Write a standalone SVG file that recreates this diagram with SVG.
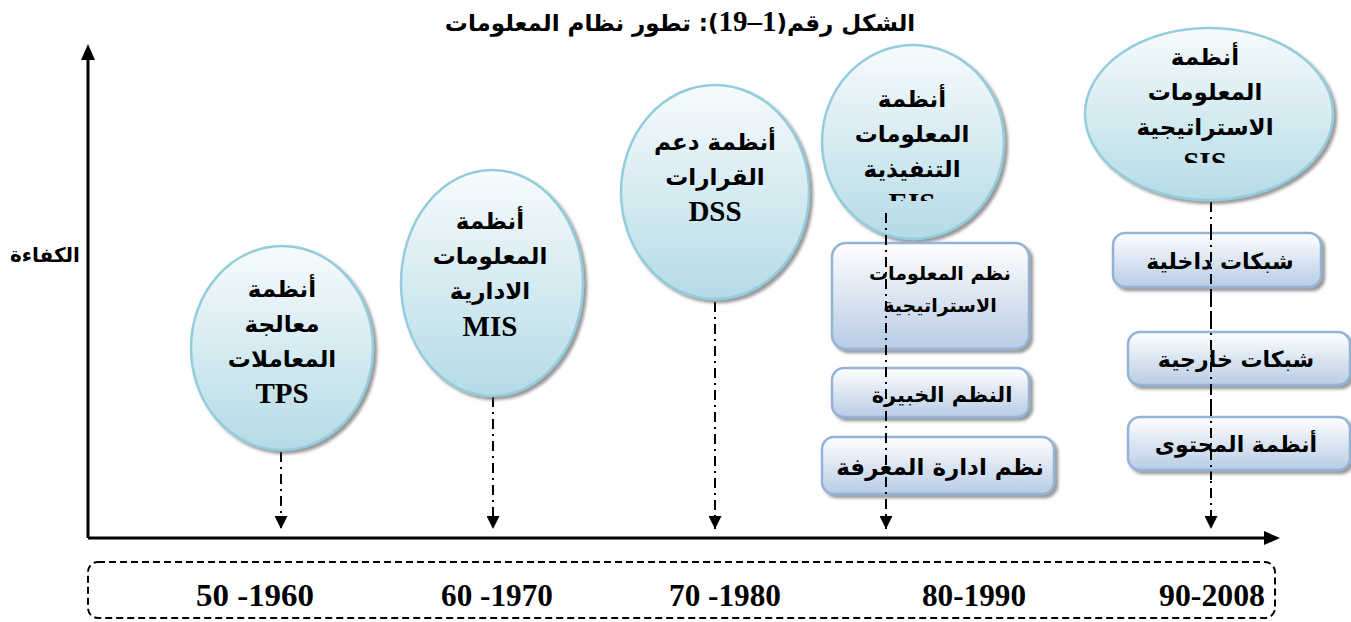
<svg xmlns="http://www.w3.org/2000/svg" width="1351" height="622" viewBox="0 0 1351 622">
  <style>
    .ar { font-family: "DejaVu Sans", "Noto Sans", sans-serif; font-weight: bold; fill: #000; text-anchor: middle; }
    .lat { font-family: "Liberation Serif", "Times New Roman", serif; font-weight: bold; fill: #000; text-anchor: middle; }
    .bubble { fill: url(#bubbleFill); stroke: #93cddd; stroke-width: 2.5; filter: url(#shadow); }
    .box { fill: url(#boxFill); stroke: #95b3d7; stroke-width: 2.5; filter: url(#shadow); }
    .axis { stroke: #000; stroke-width: 3; fill: none; }
    .drop { stroke: #000; stroke-width: 2; stroke-dasharray: 10 5 2 5; fill: none; }
    .year { font-family: "Liberation Serif", serif; font-weight: bold; font-size: 31px; text-anchor: middle; fill: #000; }
  </style>
  <defs>
    <linearGradient id="bubbleFill" x1="0" y1="0" x2="0" y2="1">
      <stop offset="0" stop-color="#f7fbfd"/>
      <stop offset="1" stop-color="#b5dbe6"/>
    </linearGradient>
    <linearGradient id="boxFill" x1="0" y1="0" x2="0" y2="1">
      <stop offset="0" stop-color="#ffffff"/>
      <stop offset="1" stop-color="#b8cce4"/>
    </linearGradient>
    <filter id="shadow" x="-10%" y="-10%" width="125%" height="125%">
      <feDropShadow dx="3" dy="3" stdDeviation="1.5" flood-color="#555" flood-opacity="0.6"/>
    </filter>
    <marker id="head" markerWidth="13" markerHeight="13" refX="13" refY="6.5" orient="auto" markerUnits="userSpaceOnUse" viewBox="0 0 13 13">
      <path d="M0,0 L13,6.5 L0,13 Z" fill="#000"/>
    </marker>
    <clipPath id="clipEIS"><rect x="820" y="40" width="190" height="161"/></clipPath>
    <clipPath id="clipSIS"><rect x="1080" y="20" width="260" height="143"/></clipPath>
  </defs>

  <!-- title -->
  <text x="680" y="31" direction="rtl" style="font-family:'DejaVu Sans',sans-serif;font-weight:bold;font-size:23px;text-anchor:middle">الشكل رقم(<tspan style="font-family:'Liberation Serif',serif;font-size:29px">1–19</tspan>): تطور نظام المعلومات</text>

  <!-- axes -->
  <g id="axes">
    <line class="axis" x1="88" y1="538" x2="88" y2="58"/>
    <path d="M81,60 L88,44 L95,60 Z" fill="#000"/>
    <line class="axis" x1="88" y1="538" x2="1266" y2="538"/>
    <path d="M1264,531 L1280,538 L1264,545 Z" fill="#000"/>
    <text class="ar" x="45" y="262" style="font-size:20px">الكفاءة</text>
  </g>

  <!-- connectors -->
  <g id="connectors">
    <line class="drop" x1="281" y1="452" x2="281" y2="529" marker-end="url(#head)"/>
    <line class="drop" x1="493" y1="397" x2="493" y2="529" marker-end="url(#head)"/>
    <line class="drop" x1="715" y1="302" x2="715" y2="529" marker-end="url(#head)"/>
    <line class="drop" x1="1211" y1="202" x2="1211" y2="529" marker-end="url(#head)"/>
  </g>

  <!-- bubbles -->
  <g id="tps">
    <ellipse class="bubble" cx="282" cy="348" rx="91" ry="102"/>
    <text class="ar" x="282" y="297" style="font-size:23px">أنظمة</text>
    <text class="ar" x="282" y="332" style="font-size:23px">معالجة</text>
    <text class="ar" x="282" y="367" style="font-size:23px">المعاملات</text>
    <text class="lat" x="282" y="403" style="font-size:29px">TPS</text>
  </g>
  <g id="mis">
    <ellipse class="bubble" cx="492" cy="283" rx="91" ry="113"/>
    <text class="ar" x="490" y="229" style="font-size:23px">أنظمة</text>
    <text class="ar" x="490" y="264" style="font-size:23px">المعلومات</text>
    <text class="ar" x="490" y="299" style="font-size:23px">الادارية</text>
    <text class="lat" x="490" y="336" style="font-size:29px">MIS</text>
  </g>
  <g id="dss">
    <ellipse class="bubble" cx="715" cy="192" rx="94" ry="107"/>
    <text class="ar" x="715" y="150" style="font-size:23px">أنظمة دعم</text>
    <text class="ar" x="715" y="185" style="font-size:23px">القرارات</text>
    <text class="lat" x="715" y="221" style="font-size:29px">DSS</text>
  </g>
  <g id="eis">
    <ellipse class="bubble" cx="913" cy="142" rx="91" ry="97"/>
    <text class="ar" x="912" y="107" style="font-size:23px">أنظمة</text>
    <text class="ar" x="912" y="142" style="font-size:23px">المعلومات</text>
    <text class="ar" x="912" y="177" style="font-size:23px">التنفيذية</text>
    <text class="lat" x="912" y="213" clip-path="url(#clipEIS)" style="font-size:29px">EIS</text>
  </g>
  <g id="sis">
    <ellipse class="bubble" cx="1209" cy="114" rx="124" ry="86"/>
    <text class="ar" x="1205" y="65" style="font-size:23px">أنظمة</text>
    <text class="ar" x="1205" y="100" style="font-size:23px">المعلومات</text>
    <text class="ar" x="1205" y="135" style="font-size:23px">الاستراتيجية</text>
    <text class="lat" x="1205" y="172" clip-path="url(#clipSIS)" style="font-size:29px">SIS</text>
  </g>

  <!-- EIS sub-systems -->
  <g id="box-strategic">
    <rect class="box" x="832" y="243" width="197" height="106" rx="14"/>
    <text class="ar" x="940" y="280" style="font-size:19px">نظم المعلومات</text>
    <text class="ar" x="940" y="312" style="font-size:19px">الاستراتيجية</text>
  </g>
  <g id="box-expert">
    <rect class="box" x="832" y="368" width="197" height="49" rx="12"/>
    <text class="ar" x="942" y="402" style="font-size:21px">النظم الخبيرة</text>
  </g>
  <g id="box-knowledge">
    <rect class="box" x="822" y="437" width="232" height="57" rx="12"/>
    <text class="ar" x="940" y="475" style="font-size:23px">نظم ادارة المعرفة</text>
  </g>

  <!-- SIS sub-systems -->
  <g id="box-intranet">
    <rect class="box" x="1113" y="233" width="208" height="54" rx="12"/>
    <text class="ar" x="1220" y="269" style="font-size:22px">شبكات داخلية</text>
  </g>
  <g id="box-extranet">
    <rect class="box" x="1128" y="332" width="222" height="53" rx="12"/>
    <text class="ar" x="1236" y="367" style="font-size:22px">شبكات خارجية</text>
  </g>
  <g id="box-content">
    <rect class="box" x="1128" y="417" width="222" height="53" rx="12"/>
    <text class="ar" x="1236" y="452" style="font-size:22px">أنظمة المحتوى</text>
  </g>

  <!-- dash-dot leaders drawn over the stacked boxes -->
  <g id="connectors-over">
    <line class="drop" x1="886" y1="213" x2="886" y2="529" marker-end="url(#head)"/>
    <line class="drop" x1="1211" y1="230" x2="1211" y2="480"/>
  </g>

  <!-- period band -->
  <g id="periods">
    <rect x="88" y="562" width="1187" height="56" rx="10" fill="none" stroke="#000" stroke-width="2" stroke-dasharray="7 4"/>
    <text class="year" x="255" y="606" textLength="118" lengthAdjust="spacingAndGlyphs">50 -1960</text>
    <text class="year" x="497" y="606" textLength="112" lengthAdjust="spacingAndGlyphs">60 -1970</text>
    <text class="year" x="725" y="606" textLength="112" lengthAdjust="spacingAndGlyphs">70 -1980</text>
    <text class="year" x="974" y="606" textLength="104" lengthAdjust="spacingAndGlyphs">80-1990</text>
    <text class="year" x="1212" y="606" textLength="106" lengthAdjust="spacingAndGlyphs">90-2008</text>
  </g>
</svg>
